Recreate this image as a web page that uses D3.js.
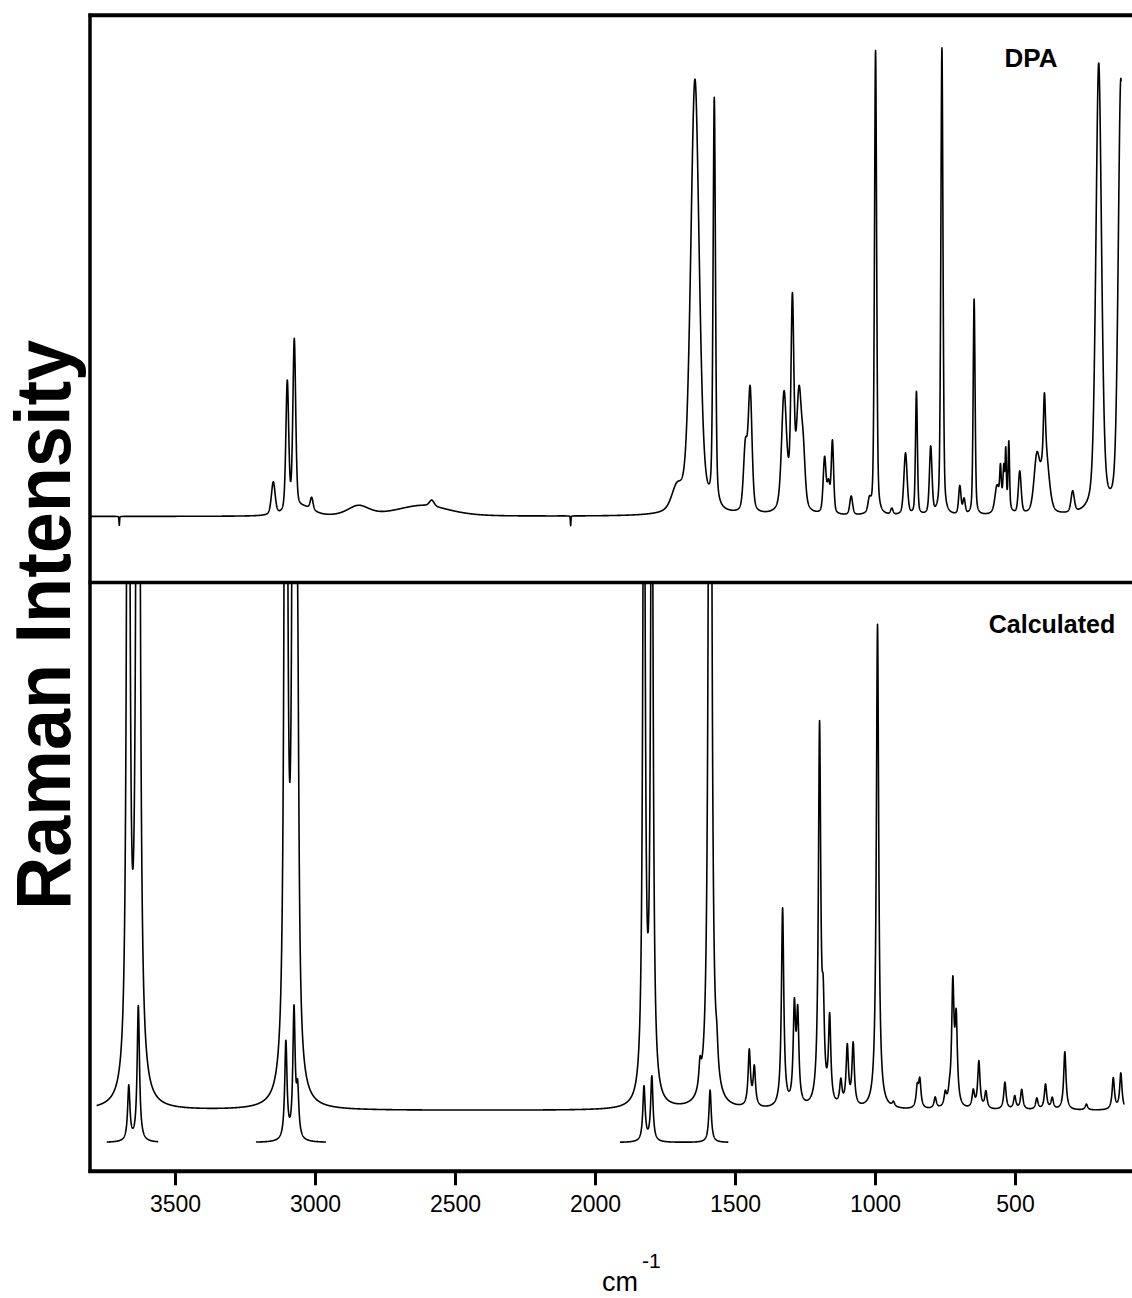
<!DOCTYPE html>
<html><head><meta charset="utf-8">
<script src="https://cdn.jsdelivr.net/npm/d3@7"></script>
<style>html,body{margin:0;padding:0;background:#fff}svg{display:block}</style>
</head><body>
<svg id="chart" width="1132" height="1298"></svg>
<script>
// ---------- DATA ----------
const xTicks = [3500, 3000, 2500, 2000, 1500, 1000, 500];
const xDomain = [3800, 0];                 // wavenumber, cm-1 (reversed axis)
const panelLabels = ["DPA", "Calculated"];

// Experimental DPA spectrum: [position cm-1, intensity (a.u.), half width cm-1]
const expRange = [3800, 121];
const expPeaks = [
  [3699, -1.9, 1.2], [3149, 7.0, 8], [3099, 27.7, 6], [3074, 36.2, 6],
  [3040, 1.7, 40], [3012, 2.6, 6], [2845, 2.1, 45], [2615, 2.3, 110],
  [2583, 1.3, 10], [2087, -2.1, 1.2], [1708, 4.5, 22], [1643, 92.7, 18],
  [1574, 86.7, 5], [1463, 13.4, 8], [1446, 26, 8], [1325, 23.4, 10],
  [1295, 4.3, 30], [1295, 40.5, 6], [1271, 22.4, 10], [1256, 9.6, 8],
  [1180, 11.7, 6], [1166, 6, 6], [1152, 15.3, 5], [1085, 4, 6],
  [1020, 2.6, 6], [998, 99, 4.5], [940, 1.3, 5], [891, 13.2, 7],
  [852, 26.2, 4], [801, 14.3, 5.5], [761, 99.5, 4.5], [697, 6, 5],
  [682, 3.2, 5], [646, 46, 4], [565, 4.3, 8], [552, 6.4, 3],
  [540, 6.4, 3], [533, 10.6, 2.5], [522, 13.8, 3], [545, 3.8, 20],
  [483, 9, 6], [422, 11.7, 12], [395, 11.7, 4], [392, 13.8, 15],
  [294, 4.5, 7], [201, 95.8, 12], [122, 92.4, 11]
];

// Calculated spectrum: [position cm-1, intensity (a.u.)], Lorentzian lines
const calcRange = [3780, 110];
const calcWidth = 5;
const calcPeaks = [
  [3667, 268], [3632, 399], [3104, 289], [3075, 330], [3062, 62],
  [1825, 161], [1797, 161], [1625, 5], [1589, 309], [1565, 5],
  [1449, 11.5], [1431, 8], [1330, 41], [1288, 19.5], [1276, 18],
  [1198, 77.5], [1185, 16.5], [1162, 17.5], [1122, 5], [1099, 12.2],
  [1078, 12.8], [991, 100], [934, 1], [849, 4.1], [840, 5.6],
  [785, 2.3], [749, 2.7], [734, 1.9], [722, 24.7], [710, 17],
  [649, 3.5], [629, 9.7], [604, 3.5], [536, 5.6], [501, 2.7],
  [476, 4.1], [422, 2.3], [391, 5.2], [367, 2.3], [322, 12],
  [245, 1.2], [149, 6.5], [122, 7.5]
];

// Reduced-scale insets of the truncated calculated bands
const insetRanges = [[3744, 3560], [3211, 2961], [1911, 1524]];
const insetPeaks1 = [[3665, 11.3], [3631, 28]];
const insetPeaks2 = [[3104, 20.2], [3075, 26.6], [3062, 9.3]];
const insetPeaks3 = [[1825, 11.3], [1797, 13.4], [1589, 10.8]];
const insetBase = -6.6;

// ---------- DRAWING ----------
const svg = d3.select("#chart");
const FONT = "'Liberation Sans', Arial, Helvetica, sans-serif";

const x = d3.scaleLinear().domain(xDomain).range([91, 1155]);
const yTop = d3.scaleLinear().domain([0, 100]).range([516.5, 47]);
const yBot = d3.scaleLinear().domain([0, 100]).range([1110.5, 625.5]);

function profile(v, peaks, eta, width) {
  let s = 0;
  for (const p of peaks) {
    const g = p.length > 2 ? p[2] : width;
    const d = (v - p[0]) / g;
    const L = 1 / (1 + d * d);
    const G = Math.exp(-Math.LN2 * d * d);
    s += p[1] * (eta * L + (1 - eta) * G);
  }
  return s;
}
function sample(range, peaks, eta, width, offset) {
  const pts = [];
  const step = 0.5;
  for (let v = range[0]; v > range[1]; v -= step) pts.push([v, offset + profile(v, peaks, eta, width)]);
  pts.push([range[1], offset + profile(range[1], peaks, eta, width)]);
  return pts;
}

const defs = svg.append("defs");
defs.append("clipPath").attr("id", "clipTop").append("rect")
  .attr("x", 91).attr("y", 17).attr("width", 1050).attr("height", 564);
defs.append("clipPath").attr("id", "clipBot").append("rect")
  .attr("x", 91).attr("y", 584).attr("width", 1050).attr("height", 586);

const lineTop = d3.line().x(d => x(d[0])).y(d => yTop(d[1]));
const lineBot = d3.line().x(d => x(d[0])).y(d => yBot(d[1]));

svg.append("path").attr("clip-path", "url(#clipTop)")
  .attr("d", lineTop(sample(expRange, expPeaks, 0.4, 5, 0)))
  .attr("fill", "none").attr("stroke", "#000").attr("stroke-width", 1.6)
  .attr("stroke-linejoin", "round");

svg.append("path").attr("clip-path", "url(#clipBot)")
  .attr("d", lineBot(sample(calcRange, calcPeaks, 1, calcWidth, 0)))
  .attr("fill", "none").attr("stroke", "#000").attr("stroke-width", 1.6)
  .attr("stroke-linejoin", "round");

[insetPeaks1, insetPeaks2, insetPeaks3].forEach((pk, i) => {
  svg.append("path").attr("clip-path", "url(#clipBot)")
    .attr("d", lineBot(sample(insetRanges[i], pk, 1, calcWidth, insetBase)))
    .attr("fill", "none").attr("stroke", "#000").attr("stroke-width", 1.6)
    .attr("stroke-linejoin", "round");
});

// frame
const frame = svg.append("g").attr("stroke", "#000").attr("fill", "none");
frame.append("line").attr("x1", 90).attr("x2", 90).attr("y1", 13.5).attr("y2", 1173).attr("stroke-width", 3.5);
frame.append("line").attr("x1", 88.5).attr("x2", 1132).attr("y1", 15.3).attr("y2", 15.3).attr("stroke-width", 4);
frame.append("line").attr("x1", 88.5).attr("x2", 1132).attr("y1", 582.5).attr("y2", 582.5).attr("stroke-width", 3.5);

// bottom axis
const axis = d3.axisBottom(x).tickValues(xTicks).tickSize(14).tickPadding(10).tickFormat(d3.format("d"));
const gAx = svg.append("g").attr("transform", "translate(0,1171.3)").call(axis);
gAx.select(".domain").attr("stroke", "#000").attr("stroke-width", 4)
  .attr("d", "M" + 88.5 + ",0H1132");
gAx.selectAll(".tick line").attr("stroke", "#000").attr("stroke-width", 3);
gAx.selectAll(".tick text").attr("font-family", FONT).attr("font-size", 23).attr("fill", "#000");

// x label
const xl = svg.append("text").attr("x", 602).attr("y", 1291).attr("text-anchor", "start")
  .attr("font-family", FONT).attr("font-size", 27).attr("fill", "#000");
xl.append("tspan").text("cm");
xl.append("tspan").attr("dx", 4).attr("dy", -23).attr("font-size", 21).text("-1");

// y label
svg.append("text").attr("transform", "translate(70,625) rotate(-90)")
  .attr("text-anchor", "middle").attr("font-family", FONT).attr("font-weight", "bold")
  .attr("font-size", 77).attr("textLength", 570).attr("lengthAdjust", "spacingAndGlyphs")
  .attr("fill", "#000").text("Raman Intensity");

// panel labels
svg.append("text").attr("x", 1031).attr("y", 67).attr("text-anchor", "middle")
  .attr("font-family", FONT).attr("font-weight", "bold").attr("font-size", 26).text(panelLabels[0]);
svg.append("text").attr("x", 1052).attr("y", 633).attr("text-anchor", "middle")
  .attr("font-family", FONT).attr("font-weight", "bold").attr("font-size", 25).text(panelLabels[1]);
</script>
</body></html>
